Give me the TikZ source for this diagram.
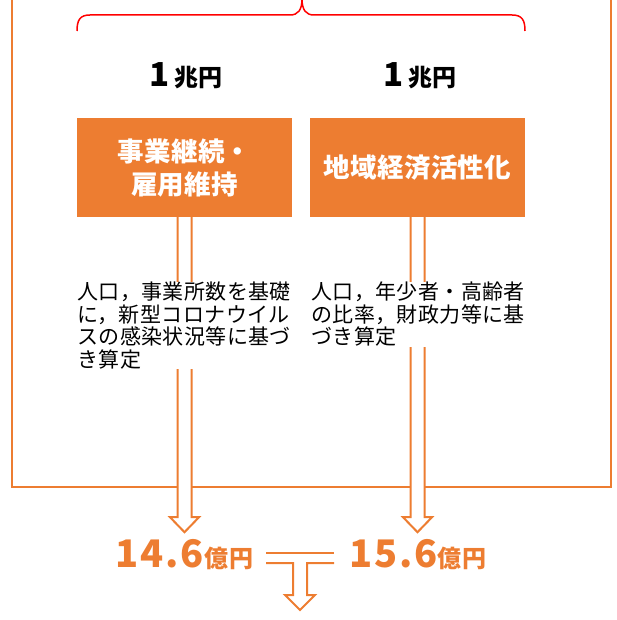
\documentclass[tikz,border=0pt]{standalone}
\usepackage{fontspec}
\setmainfont{Noto Sans CJK JP}
\newfontfamily\noteface[LetterSpace=2]{Noto Sans CJK JP}
\newfontfamily\headface[LetterSpace=1]{Noto Sans CJK JP}
\newfontfamily\sumface[LetterSpace=5]{Noto Sans CJK JP}
\usepackage{tikz}
\usetikzlibrary{positioning}
\definecolor{kenorange}{HTML}{ED7D31}
\definecolor{bracered}{HTML}{FF0000}

\begin{document}
\begin{tikzpicture}[x=1pt, y=-1pt,
	fund/.style={rectangle, fill=kenorange, text=white, minimum width=215pt, minimum height=99pt, inner sep=0pt, align=center, font=\headface\bfseries\fontsize{26.5}{33}\selectfont},
	amount/.style={inner sep=0pt, anchor=base, font=\headface\bfseries\fontsize{24}{26}\selectfont},
	note/.style={fill=white, inner sep=0pt, text width=216pt, align=left, anchor=north west, font=\noteface\fontsize{21}{22.5}\selectfont},
	total/.style={inner sep=0pt, anchor=base, text=kenorange, font=\sumface\bfseries\fontsize{24}{26}\selectfont},
	hollow/.style={draw=kenorange, line width=2pt, fill=white},
	frame/.style={draw=kenorange, line width=2pt},
	brace/.style={draw=bracered, line width=1.5pt}]
	\useasboundingbox (0,0) rectangle (616,620);
	\draw [frame] (12,-2) |- (611,487) -- (611,-2);
	\draw [brace] (77,31) .. controls (77,20) and (80,15) .. (90,15) -- (290,15) .. controls (298,15) and (302,10) .. (302,-1) .. controls (302,10) and (306,15) .. (314,15) -- (512,15) .. controls (522,15) and (525,20) .. (525,31);

	\node at (186,87) [amount] (amt1) {{\fontsize{33}{33}\selectfont 1}\hspace{5pt}兆円};
	\node at (420,87) [amount] (amt2) {{\fontsize{33}{33}\selectfont 1}\hspace{5pt}兆円};
	\node at (184.5,167.5) [fund] (fund1) {事業継続・\\雇用維持};
	\node at (417.5,167.5) [fund] (fund2) {地域経済活性化};

	\path (fund1.south) ++(0,315) coordinate (tip1);
	\path (fund2.south) ++(0,315) coordinate (tip2);
	\draw [hollow] ([xshift=-7pt]fund1.south) -- ([xshift=-7pt,yshift=15pt]tip1) -- ([xshift=-14.5pt,yshift=15pt]tip1) -- (tip1) -- ([xshift=14.5pt,yshift=15pt]tip1) -- ([xshift=7pt,yshift=15pt]tip1) -- ([xshift=7pt]fund1.south);
	\draw [hollow] ([xshift=-7pt]fund2.south) -- ([xshift=-7pt,yshift=15pt]tip2) -- ([xshift=-14.5pt,yshift=15pt]tip2) -- (tip2) -- ([xshift=14.5pt,yshift=15pt]tip2) -- ([xshift=7pt,yshift=15pt]tip2) -- ([xshift=7pt]fund2.south);

	\node at (77,282) [note] (note1) {人口，事業所数を基礎\\に，新型コロナウイル\\スの感染状況等に基づ\\き算定};
	\node at (311,282) [note] (note2) {人口，年少者・高齢者\\の比率，財政力等に基\\づき算定};

	\node at (184.5,567) [total] (sum1) {{\fontsize{38}{40}\selectfont 14.6}億円};
	\node at (418,567) [total] (sum2) {{\fontsize{38}{40}\selectfont 15.6}億円};
	\coordinate (join) at (300,553);
	\draw [frame] ([xshift=-34pt]join) -- ([xshift=34pt]join);
	\draw [frame] (join) ++(-34,10) -- ++(27,0) -- ++(0,32) -- ++(-8,0) -- ++(15,15) -- ++(15,-15) -- ++(-8,0) -- ++(0,-32) -- ++(27,0);
    \end{tikzpicture}
\end{document}
